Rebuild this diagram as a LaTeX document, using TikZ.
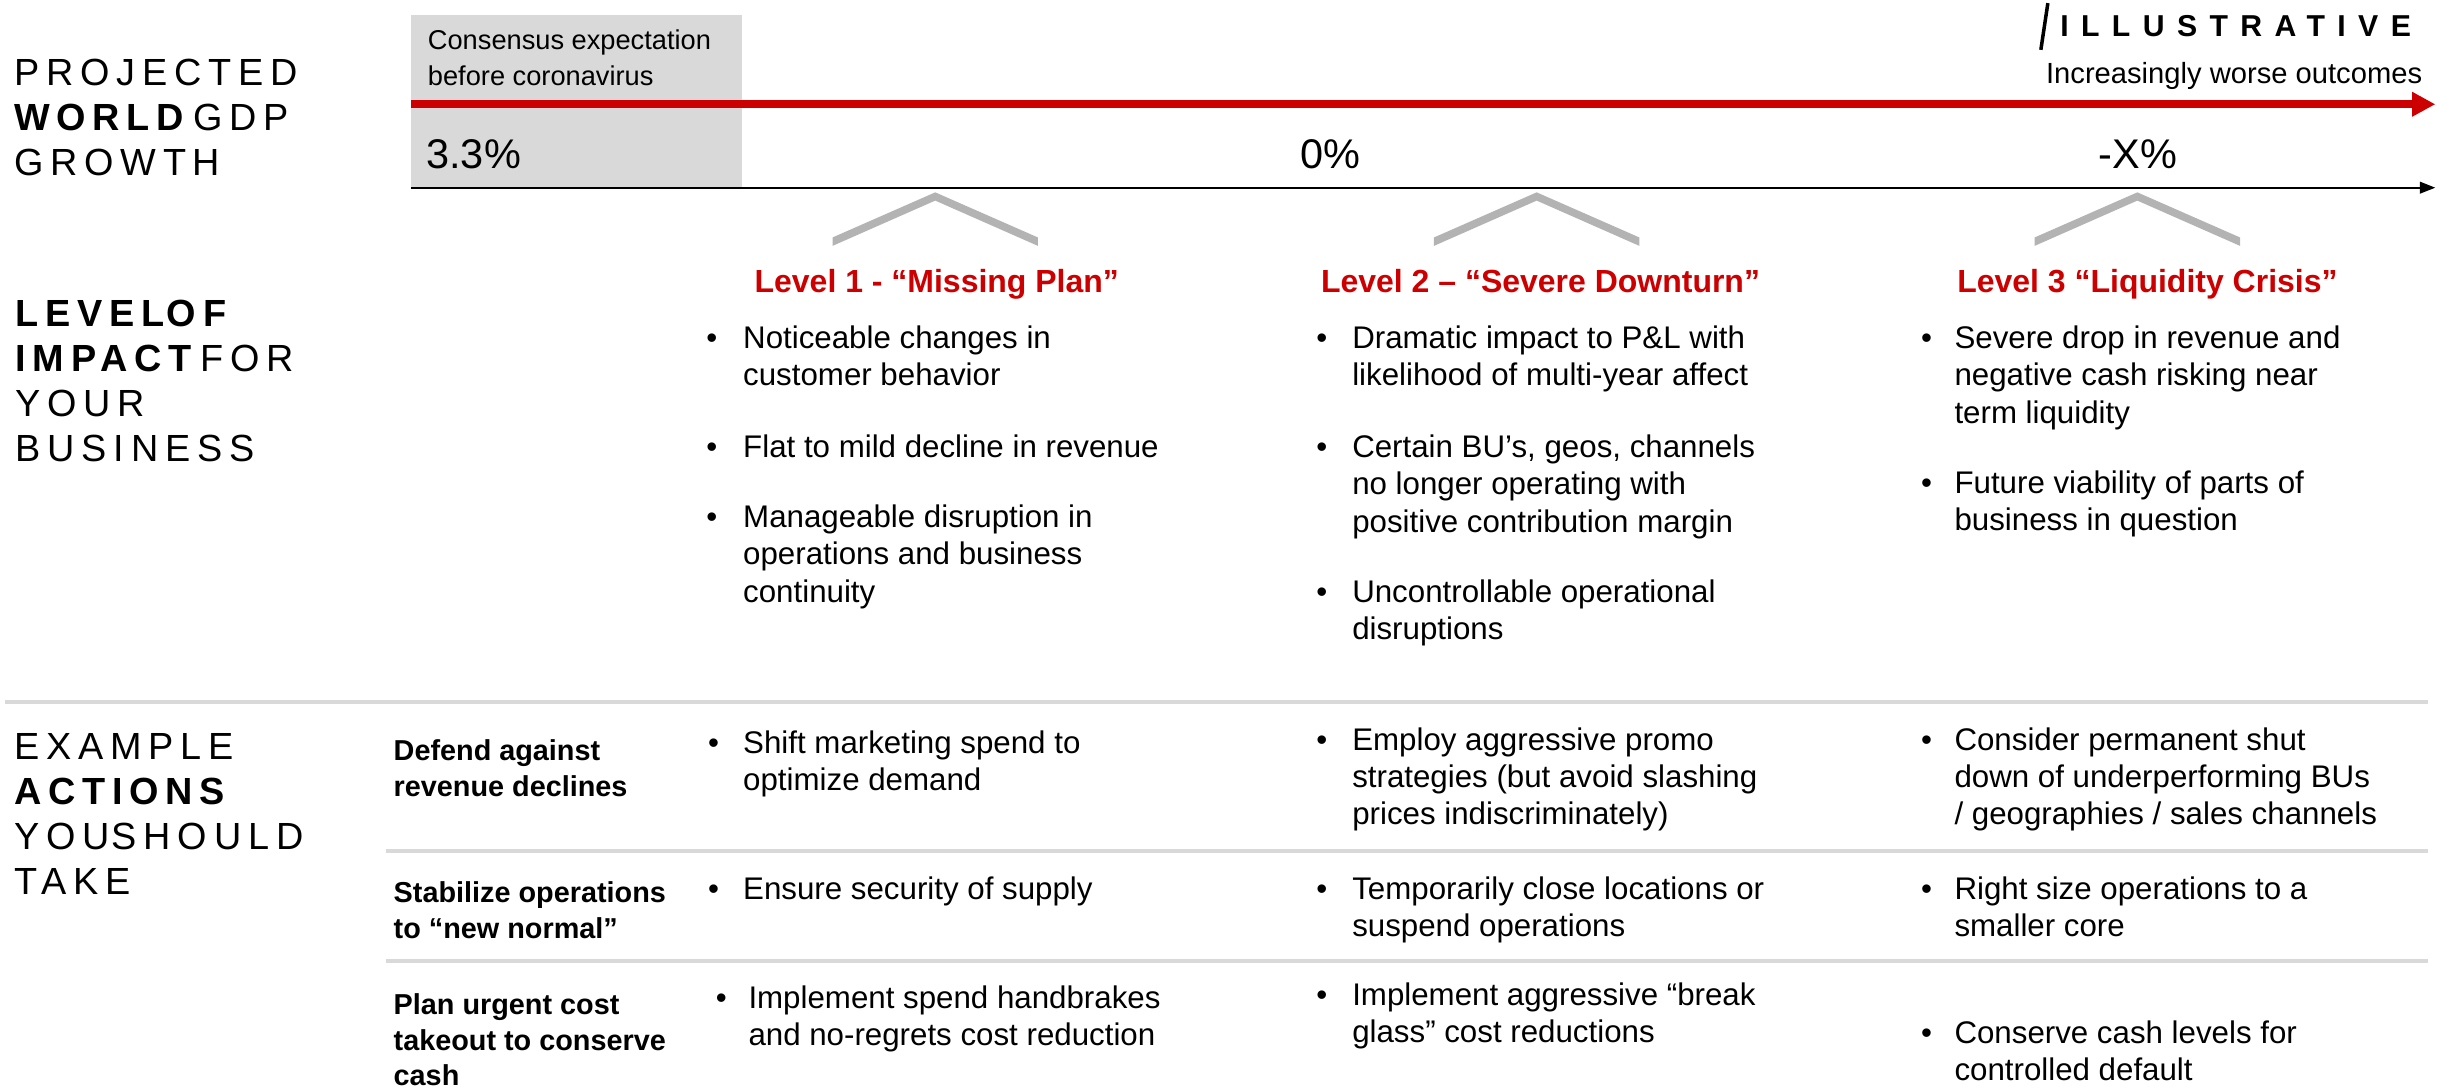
\documentclass[tikz,border=0pt]{standalone}
\usepackage{fontspec}
\setmainfont{Liberation Sans}
\newfontfamily\hdfont{Liberation Sans}[LetterSpace=18]
\newfontfamily\ilfont{Liberation Sans}[LetterSpace=41]
\newcommand\hdsetup{\spaceskip 0.06em\relax}
\usetikzlibrary{arrows.meta}
\definecolor{cred}{HTML}{CC0000}
\definecolor{bandgray}{HTML}{D9D9D9}
\definecolor{chevgray}{HTML}{B3B3B3}
\definecolor{rulegray}{HTML}{D9D9D9}
\begin{document}
\begin{tikzpicture}[x=0.015561cm,y=-0.015561cm,
  txt/.style={anchor=base west,inner sep=0pt,outer sep=0pt,align=left},
  head/.style={txt,font=\hdfont\fontsize{10.76}{12.8}\selectfont\hdsetup},
  body/.style={txt,font=\fontsize{8.9}{10.63}\selectfont},
  bul/.style={txt,font=\fontsize{8.9}{10.63}\selectfont},
  rowhead/.style={txt,font=\bfseries\fontsize{8.2}{10.2}\selectfont},
  lvltitle/.style={anchor=base,inner sep=0pt,outer sep=0pt,text=cred,font=\bfseries\fontsize{9.1}{11}\selectfont},
  bigval/.style={inner sep=0pt,outer sep=0pt,font=\fontsize{11.8}{14}\selectfont},
  rule/.style={draw=rulegray,line width=1.1pt},
  chev/.style={fill=chevgray},
  redarrow/.style={draw=cred,line width=2.2pt,-{Triangle[length=6.6pt,width=6.6pt]}},
  axisarrow/.style={draw=black,line width=0.6pt,-{Triangle[length=4.4pt,width=3.3pt]}}
]
\useasboundingbox[fill=white] (0,0) rectangle (1568,699.2);
% NOTE: multi-line nodes are placed at the baseline of their LAST line

% consensus band
\fill[bandgray] (264,9.6) rectangle (477,120);
\node[txt,font=\fontsize{7.75}{10.2}\selectfont] (consensus) at (275,55) {Consensus expectation\\before coronavirus};

% arrows
\coordinate (redS) at (264,67);
\coordinate (redE) at (1565,67);
\draw[redarrow] (redS) -- (redE);
\coordinate (axS) at (264,120.6);
\coordinate (axE) at (1565,120.6);
\draw[axisarrow] (axS) -- (axE);

% values
\node[bigval,anchor=base west] (v33) at (274,108) {3.3\%};
\node[bigval,anchor=base] (v0) at (855,108) {0\%};
\node[bigval,anchor=base] (vx) at (1374,108) {-X\%};

% illustrative
\coordinate (slA) at (1311.5,32);
\coordinate (slB) at (1316,2);
\draw[line width=1pt] (slA) -- (slB);
\node[txt,font=\ilfont\bfseries\fontsize{8.6}{10}\selectfont] (illus) at (1324,23.6) {ILLUSTRATIVE};
\node[anchor=base east,inner sep=0pt,font=\fontsize{8.3}{10}\selectfont] (worse) at (1557,53.6) {Increasingly worse outcomes};

% chevrons
\foreach \c in {601,987.5,1373.5}{
  \fill[chev] (\c-66,152.6) -- (\c,123.6) -- (\c+66,152.6) -- (\c+66,158) -- (\c,128.9) -- (\c-66,158) -- cycle;
}

% left headings
\node[head] (hgdp) at (9,112.8) {PROJECTED\\\textbf{WORLD} GDP\\GROWTH};
\node[head] (himpact) at (10,296.7) {\textbf{LEVEL OF}\\\textbf{IMPACT} FOR\\YOUR\\BUSINESS};
\node[head] (hactions) at (9,574.7) {EXAMPLE\\\textbf{ACTIONS}\\YOU SHOULD\\TAKE};

% level titles
\node[lvltitle] (t1) at (602,188) {Level 1 - “Missing Plan”};
\node[lvltitle] (t2) at (990,188) {Level 2 – “Severe Downturn”};
\node[lvltitle] (t3) at (1380,188) {Level 3 “Liquidity Crisis”};

% level 1 impacts
\node[bul] (l1b1) at (454,224) {•};
\node[body] (l1t1) at (477.6,248) {Noticeable changes in\\customer behavior};
\node[bul] (l1b2) at (454,294) {•};
\node[body] (l1t2) at (477.6,294) {Flat to mild decline in revenue};
\node[bul] (l1b3) at (454,339) {•};
\node[body] (l1t3) at (477.6,387) {Manageable disruption in\\operations and business\\continuity};

% level 2 impacts
\node[bul] (l2b1) at (846,224) {•};
\node[body] (l2t1) at (869,248) {Dramatic impact to P\&L with\\likelihood of multi-year affect};
\node[bul] (l2b2) at (846,294) {•};
\node[body] (l2t2) at (869,342) {Certain BU’s, geos, channels\\no longer operating with\\positive contribution margin};
\node[bul] (l2b3) at (846,387) {•};
\node[body] (l2t3) at (869,411) {Uncontrollable operational\\disruptions};

% level 3 impacts
\node[bul] (l3b1) at (1234.6,224) {•};
\node[body] (l3t1) at (1256,272) {Severe drop in revenue and\\negative cash risking near\\term liquidity};
\node[bul] (l3b2) at (1234.6,317) {•};
\node[body] (l3t2) at (1256,341) {Future viability of parts of\\business in question};

% rules
\coordinate (r0a) at (3,451);
\coordinate (r0b) at (1560,451);
\draw[rule] (r0a) -- (r0b);
\coordinate (r1a) at (248,547);
\coordinate (r1b) at (1560,547);
\draw[rule] (r1a) -- (r1b);
\coordinate (r2a) at (248,617.5);
\coordinate (r2b) at (1560,617.5);
\draw[rule] (r2a) -- (r2b);

% row headings
\node[rowhead] (rh1) at (253,511.7) {Defend against\\revenue declines};
\node[rowhead] (rh2) at (253,603) {Stabilize operations\\to “new normal”};
\node[rowhead] (rh3) at (253,697.8) {Plan urgent cost\\takeout to conserve\\cash};

% row 1 actions
\node[bul] (a11b) at (455,484) {•};
\node[body] (a11) at (477.6,508) {Shift marketing spend to\\optimize demand};
\node[bul] (a12b) at (846,482) {•};
\node[body] (a12) at (869,530) {Employ aggressive promo\\strategies (but avoid slashing\\prices indiscriminately)};
\node[bul] (a13b) at (1234.6,482) {•};
\node[body] (a13) at (1256,530) {Consider permanent shut\\down of underperforming BUs\\/ geographies / sales channels};

% row 2 actions
\node[bul] (a21b) at (455,578) {•};
\node[body] (a21) at (477.6,578) {Ensure security of supply};
\node[bul] (a22b) at (846,578) {•};
\node[body] (a22) at (869,602) {Temporarily close locations or\\suspend operations};
\node[bul] (a23b) at (1234.6,578) {•};
\node[body] (a23) at (1256,602) {Right size operations to a\\smaller core};

% row 3 actions
\node[bul] (a31b) at (460,648) {•};
\node[body] (a31) at (481,672) {Implement spend handbrakes\\and no-regrets cost reduction};
\node[bul] (a32b) at (846,646) {•};
\node[body] (a32) at (869,670) {Implement aggressive “break\\glass” cost reductions};
\node[bul] (a33b) at (1234.6,670.6) {•};
\node[body] (a33) at (1256,694.6) {Conserve cash levels for\\controlled default};
\end{tikzpicture}
\end{document}
